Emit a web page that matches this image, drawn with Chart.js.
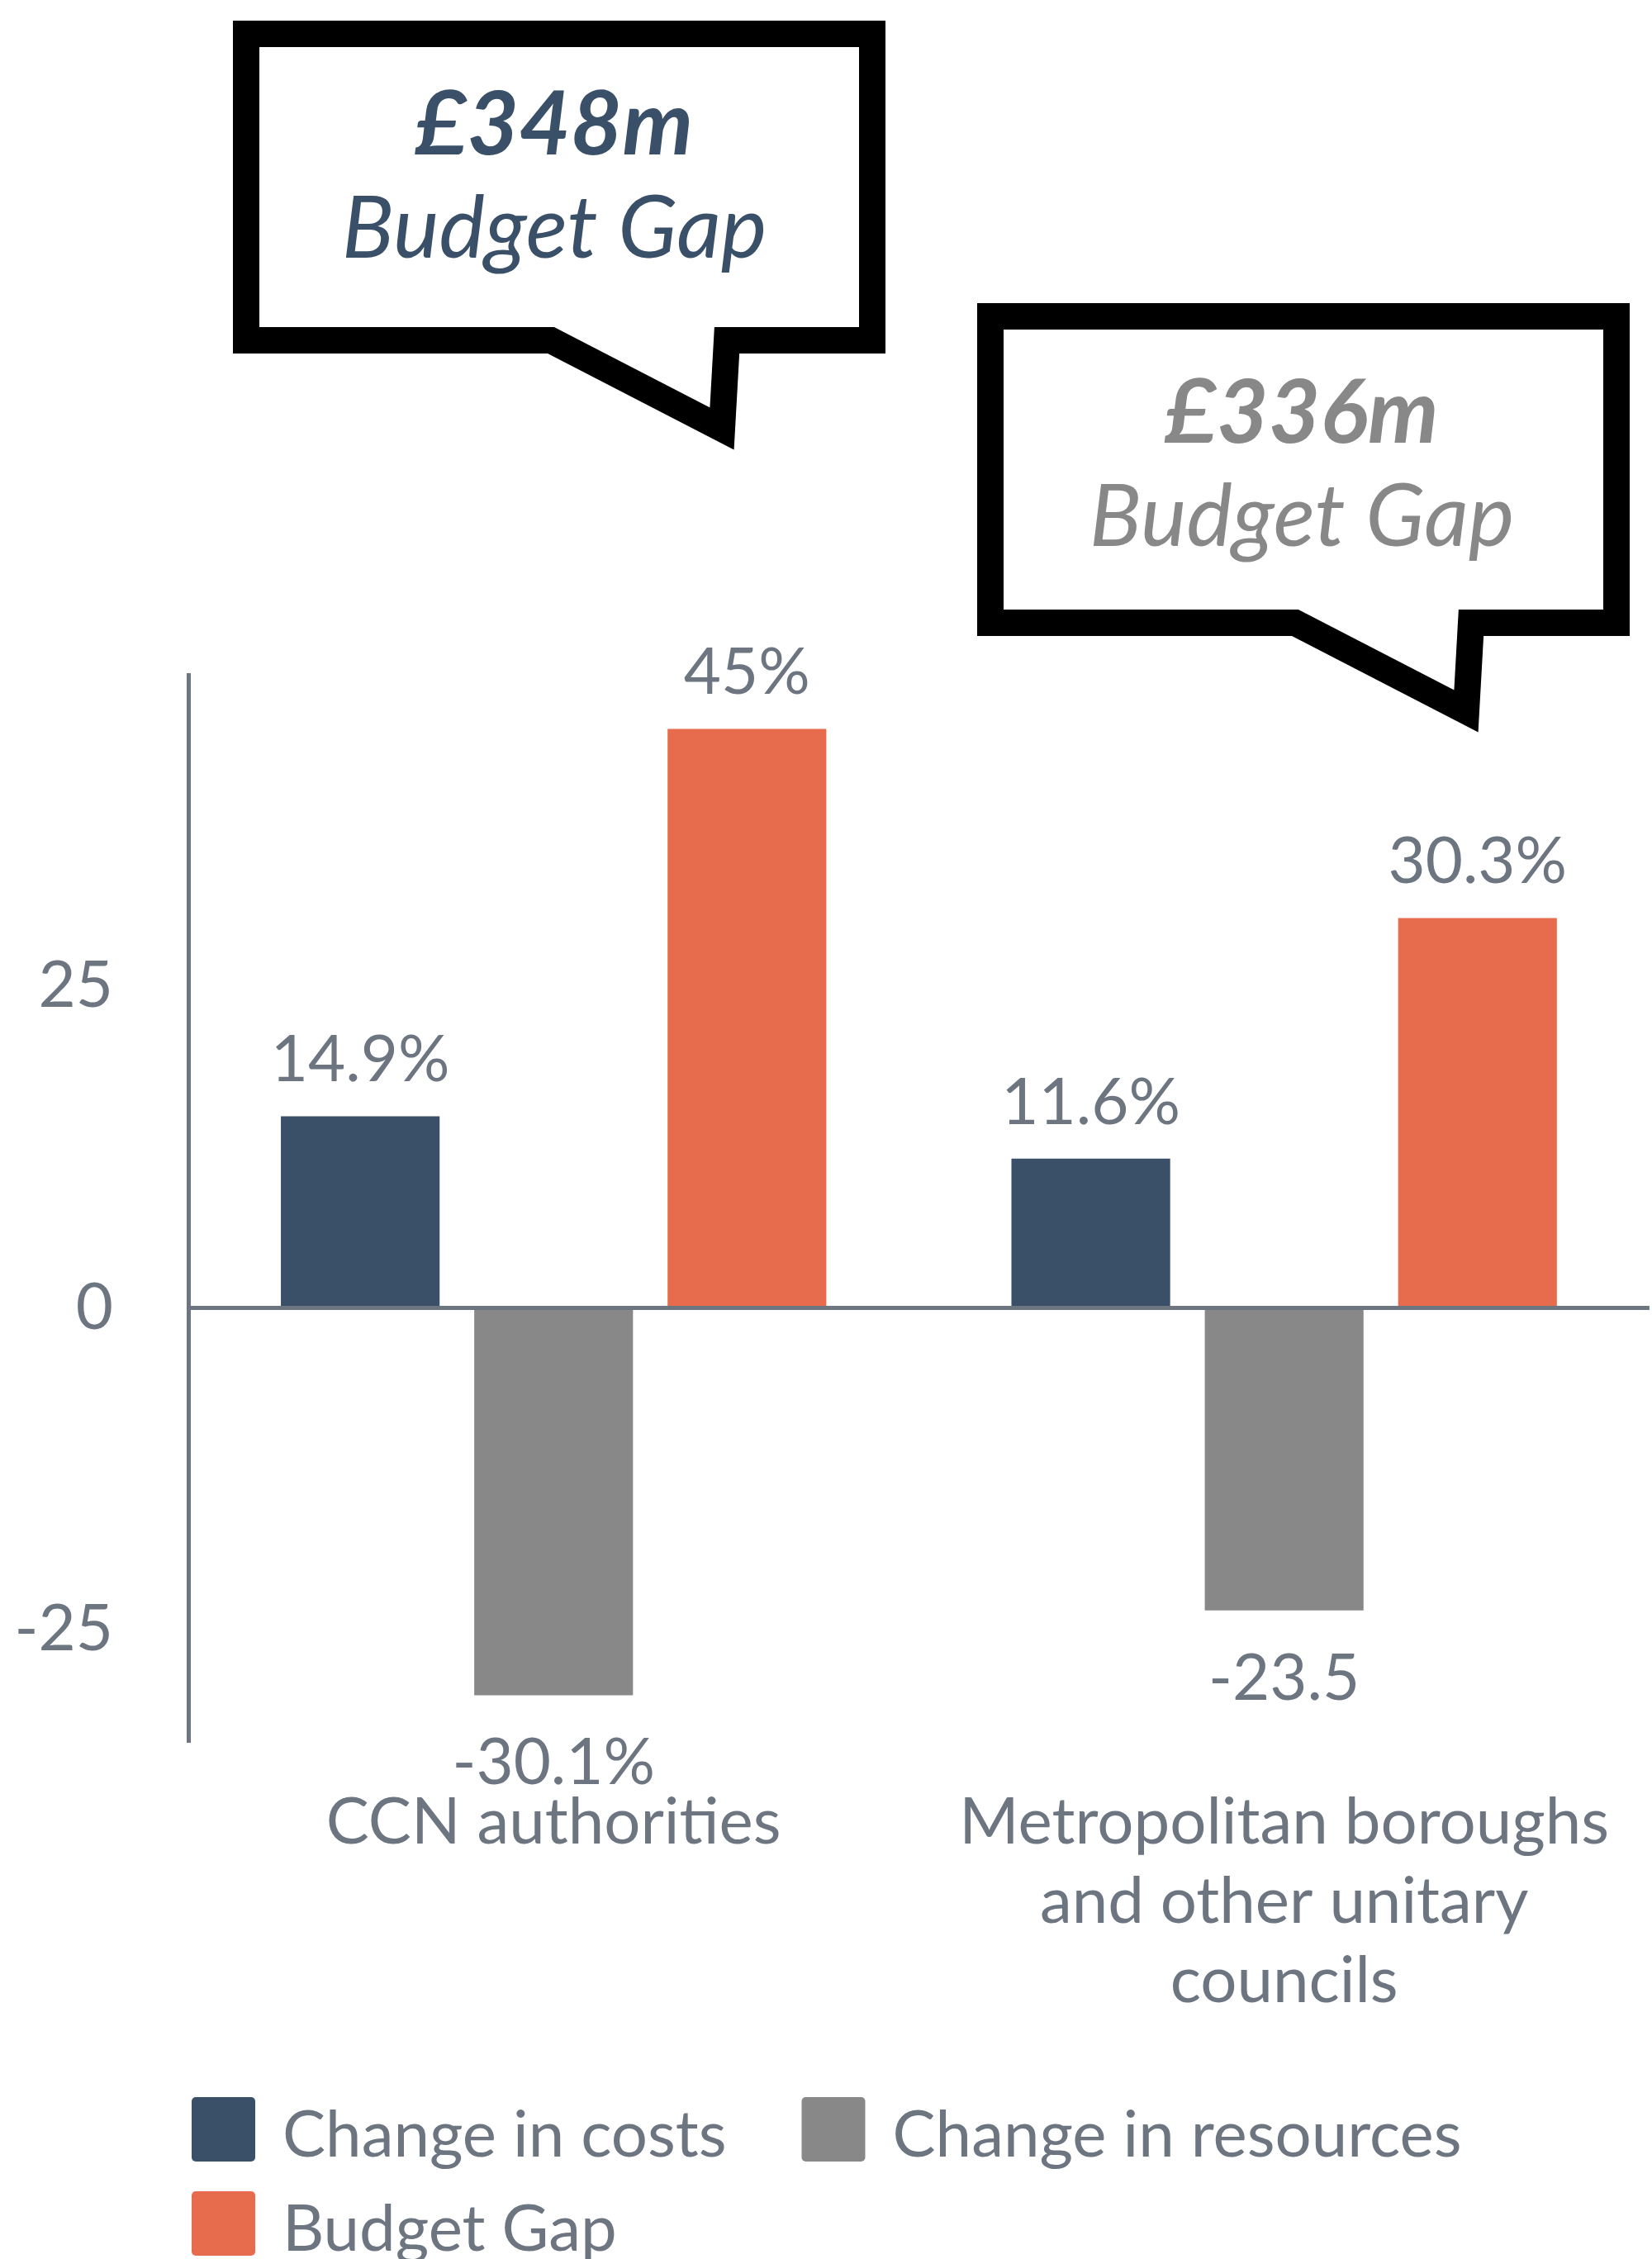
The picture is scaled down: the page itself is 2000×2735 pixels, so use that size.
<!DOCTYPE html>
<html>
<head>
<meta charset="utf-8">
<title>Budget gap chart</title>
<script src="https://cdn.jsdelivr.net/npm/chart.js@4.4.1/dist/chart.umd.min.js"></script>
<style>
  html, body { margin: 0; padding: 0; background: #fff; }
  #wrap { width: 2000px; height: 2735px; position: relative; }
</style>
</head>
<body>
<div id="wrap"><canvas id="gapChart"></canvas></div>
<script>
// --- chart data ---
const categories = [
    ['CCN authorities'],
    ['Metropolitan boroughs', 'and other unitary', 'councils']
];
const seriesNames = ['Change in costs', 'Change in resources', 'Budget Gap'];
const changeInCosts = [14.9, 11.6];
const changeInResources = [-30.1, -23.5];
const budgetGap = [45, 30.3];
const costLabels = ['14.9%', '11.6%'];
const resourceLabels = ['-30.1%', '-23.5'];
const gapLabels = ['45%', '30.3%'];
const gapTotals = ['£348m', '£336m'];
const yTicks = [-25, 0, 25];
// --- end of data ---

const BLUE = '#3a5068';
const GREY = '#888888';
const ORANGE = '#e66c4d';
const AXIS = '#6c7580';
const FONT = 'Lato';

// speech bubble outline (centre line of the stroke), relative to its top-left corner
const bubbleShape = [[0, 0], [758, 0], [758, 371], [582, 371], [576, 478], [369, 371], [0, 371]];
const bubbles = [
    { x: 298, y: 41, textX: 671, textY: 187, color: BLUE },
    { x: 1199, y: 383, textX: 1576, textY: 536, color: GREY }
];

const valueLabelsPlugin = {
    id: 'valueLabels',
    afterDatasetsDraw(chart) {
        const ctx = chart.ctx;
        const labels = [costLabels, resourceLabels, gapLabels];
        ctx.save();
        ctx.font = `400 78px ${FONT}`;
        ctx.fillStyle = AXIS;
        ctx.textAlign = 'center';
        ctx.textBaseline = 'alphabetic';
        chart.data.datasets.forEach((ds, i) => {
            chart.getDatasetMeta(i).data.forEach((bar, j) => {
                const y = ds.data[j] >= 0 ? bar.y - 42 : bar.y + 108;
                ctx.fillText(labels[i][j], bar.x, y);
            });
        });
        ctx.restore();
    }
};

const bubblePlugin = {
    id: 'bubbles',
    afterDraw(chart) {
        const ctx = chart.ctx;
        ctx.save();
        bubbles.forEach((b, i) => {
            ctx.beginPath();
            bubbleShape.forEach(([px, py], k) => {
                if (k === 0) ctx.moveTo(b.x + px, b.y + py);
                else ctx.lineTo(b.x + px, b.y + py);
            });
            ctx.closePath();
            ctx.fillStyle = '#fff';
            ctx.fill();
            ctx.lineWidth = 32;
            ctx.lineJoin = 'miter';
            ctx.miterLimit = 10;
            ctx.strokeStyle = '#000';
            ctx.stroke();

            ctx.fillStyle = b.color;
            ctx.textAlign = 'center';
            ctx.textBaseline = 'alphabetic';
            ctx.font = `italic 700 108px ${FONT}`;
            ctx.fillText(gapTotals[i], b.textX, b.textY);
            ctx.font = `italic 400 105px ${FONT}`;
            ctx.fillText(seriesNames[2], b.textX, b.textY + 125);
        });
        ctx.restore();
    }
};

// legend drawn under the axis labels, two items on the first row
const legendPlugin = {
    id: 'bottomLegend',
    afterDraw(chart) {
        const ctx = chart.ctx;
        ctx.save();
        ctx.font = `400 78px ${FONT}`;
        ctx.textBaseline = 'alphabetic';
        ctx.textAlign = 'left';
        let x = 232;
        let y = 2539;
        chart.data.datasets.forEach((ds, i) => {
            const textW = ctx.measureText(ds.label).width;
            if (i > 0 && x + 112 + textW > 1990) {
                x = 232;
                y += 114;
            }
            ctx.fillStyle = ds.backgroundColor;
            ctx.beginPath();
            ctx.roundRect(x, y, 77, 78, 5);
            ctx.fill();
            ctx.fillStyle = AXIS;
            ctx.fillText(ds.label, x + 110, y + 72);
            x += 112 + textW + 89;
        });
        ctx.restore();
    }
};

function drawChart() {
    const ctx = document.getElementById('gapChart').getContext('2d');
    new Chart(ctx, {
        type: 'bar',
        data: {
            labels: categories,
            datasets: [
                { label: seriesNames[0], data: changeInCosts, backgroundColor: BLUE },
                { label: seriesNames[1], data: changeInResources, backgroundColor: GREY },
                { label: seriesNames[2], data: budgetGap, backgroundColor: ORANGE }
            ]
        },
        options: {
            responsive: true,
            maintainAspectRatio: false,
            animation: false,
            categoryPercentage: 0.794,
            barPercentage: 0.821,
            layout: { padding: { top: 817, right: -6, bottom: 288, left: 0 } },
            plugins: {
                legend: { display: false },
                tooltip: { enabled: false }
            },
            scales: {
                x: {
                    afterFit: s => { s.height = 340; },
                    border: { display: false },
                    grid: { display: false, drawTicks: false },
                    ticks: {
                        padding: 52,
                        color: AXIS,
                        maxRotation: 0,
                        autoSkip: false,
                        font: { family: FONT, size: 78, lineHeight: 1.23 }
                    }
                },
                y: {
                    min: -33.6,
                    max: 49.2,
                    afterBuildTicks: s => { s.ticks = yTicks.map(v => ({ value: v })); },
                    afterFit: s => { s.width = 228; },
                    border: { display: true, color: AXIS, width: 5 },
                    grid: {
                        drawTicks: false,
                        lineWidth: 5,
                        color: c => (c.tick && c.tick.value === 0 ? AXIS : 'rgba(0,0,0,0)')
                    },
                    ticks: {
                        padding: 91,
                        color: AXIS,
                        font: { family: FONT, size: 78 }
                    }
                }
            }
        },
        plugins: [valueLabelsPlugin, bubblePlugin, legendPlugin]
    });
}

const fontSpecs = ['400 78px Lato', 'italic 400 105px Lato', 'italic 700 108px Lato'];
Promise.all(fontSpecs.map(f => document.fonts.load(f))).then(drawChart, drawChart);
</script>
</body>
</html>
